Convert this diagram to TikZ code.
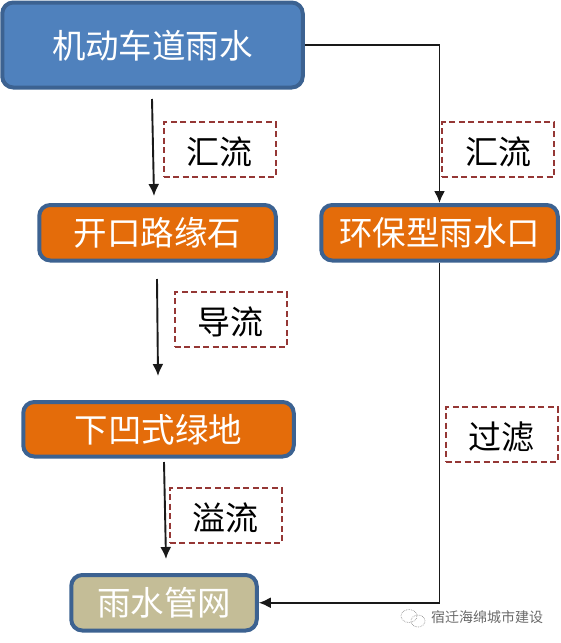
\documentclass[tikz,border=0pt]{standalone}
\usepackage{fontspec}
\usepackage{xcolor}
\usepackage{tikz}
\usetikzlibrary{arrows.meta, positioning, shapes.geometric}
\setmainfont{Noto Sans CJK SC}
\definecolor{roadblue}{RGB}{79,129,189}
\definecolor{borderblue}{RGB}{60,98,145}
\definecolor{stepfill}{RGB}{228,108,10}
\definecolor{pipetan}{RGB}{196,189,151}
\definecolor{dashred}{RGB}{149,55,53}
\definecolor{markgray}{RGB}{105,105,105}
\tikzset{
  box/.style={
    draw=borderblue,
    line width=4pt,
    rounded corners=11pt,
    align=center,
    text=white,
    inner sep=0pt,
    text height=26pt,
    text depth=0pt,
    font=\fontsize{33.5}{36}\selectfont
  },
  tagbox/.style={
    draw=dashred,
    line width=2pt,
    dash pattern=on 6pt off 3.5pt,
    align=center,
    inner sep=0pt,
    minimum width=112pt,
    minimum height=55pt,
    text height=29pt,
    text depth=0pt,
    font=\fontsize{33}{36}\selectfont
  },
  arrow/.style={-{Latex[length=12pt,width=11pt]}, line width=1.9pt, draw=black!90},
  markring/.style={draw=markgray!70, densely dotted, ellipse, line width=.7pt, inner sep=0pt}
}
\begin{document}
\begin{tikzpicture}[x=1pt, y=-1pt]
\useasboundingbox (0,0) rectangle (560,643);

\node[box, fill=roadblue, minimum width=300.5pt, minimum height=85pt] (road) at (152.5,45)
{机动车道雨水};

\node[box, fill=stepfill, minimum width=236.5pt, minimum height=55.5pt, below=113.5pt of road, xshift=5pt] (curb)
{开口路缘石};

\node[box, fill=stepfill, minimum width=236.5pt, minimum height=55.5pt, right=41.5pt of curb] (inlet)
{环保型雨水口};

\node[box, fill=stepfill, minimum width=270.5pt, minimum height=54.5pt, below=137.5pt of curb, xshift=1pt] (green)
{下凹式绿地};

\node[box, fill=pipetan, minimum width=185.5pt, minimum height=55.5pt, below=114.5pt of green, xshift=5.5pt] (pipe)
{雨水管网};

\node[tagbox, below=31.5pt of road, xshift=67pt] (huione) {汇流};
\node[tagbox, below=31.5pt of road, xshift=345.5pt] (huitwo) {汇流};
\node[tagbox, below=28.5pt of curb, xshift=73pt] (guide) {导流};
\node[tagbox, below=28.5pt of green, xshift=67pt] (over) {溢流};
\node[tagbox, below=143.5pt of inlet, xshift=62pt] (filter) {过滤};

\node[text=markgray, font=\fontsize{14}{16}\selectfont, inner sep=0pt] (mark) at (487,617) {宿迁海绵城市建设};
\node[markring, minimum width=16pt, minimum height=13pt] (ringone) at (409,616) {};
\node[markring, minimum width=14pt, minimum height=12pt] (ringtwo) at (418,621) {};

\coordinate (aone) at (152,99);
\coordinate (bone) at (154,196);
\coordinate (atwo) at (157,279);
\coordinate (btwo) at (158,376);
\coordinate (athree) at (164,462);
\coordinate (bthree) at (166,559);

\draw[arrow] (aone) -- (bone);
\draw[arrow] (atwo) -- (btwo);
\draw[arrow] (athree) -- (bthree);
\draw[arrow] (road.east) -| (inlet.north);
\draw[arrow] (inlet.south) |- (pipe.east);
\end{tikzpicture}
\end{document}
